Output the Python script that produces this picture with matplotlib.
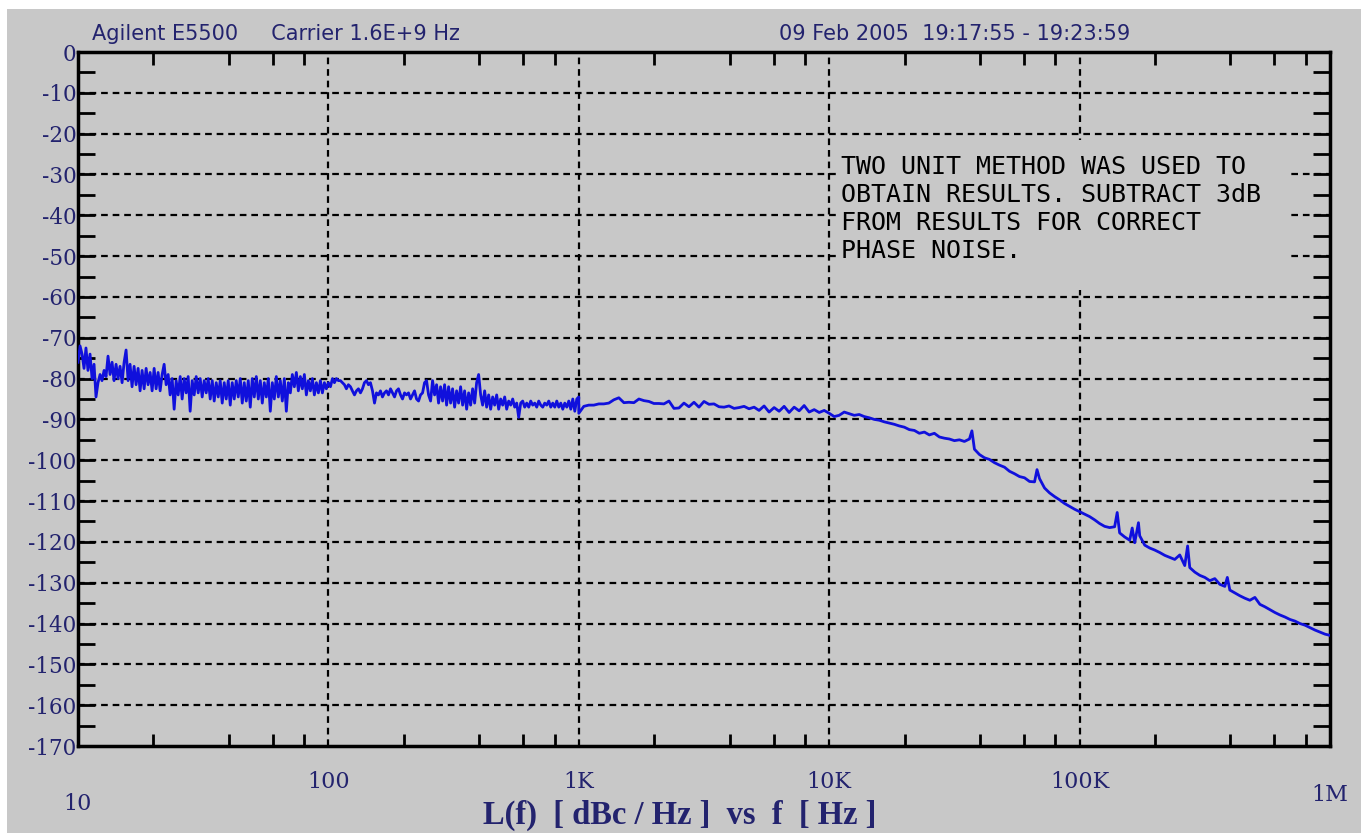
import matplotlib
matplotlib.use('Agg')
import matplotlib.pyplot as plt
from matplotlib.patches import Rectangle
from matplotlib.ticker import FixedLocator, FixedFormatter, NullFormatter

# phase noise trace, 10 Hz .. 1 MHz
freq_lo = [10.0, 10.19, 10.38, 10.57, 10.76, 10.96, 11.17, 11.38, 11.59, 11.80,
           12.02, 12.25, 12.47, 12.71, 12.94, 13.18, 13.43, 13.68, 13.93, 14.19,
           14.45, 14.72, 15.00, 15.28, 15.56, 15.85, 16.14, 16.44, 16.75, 17.06,
           17.38, 17.70, 18.03, 18.37, 18.71, 19.05, 19.41, 19.77, 20.14, 20.51,
           20.89, 21.28, 21.68, 22.08, 22.49, 22.91, 23.33, 23.77, 24.21, 24.66,
           25.12, 25.59, 26.06, 26.55, 27.04, 27.54, 28.05, 28.58, 29.11, 29.65,
           30.20, 30.76, 31.33, 31.92, 32.51, 33.11, 33.73, 34.36, 34.99, 35.65,
           36.31, 36.98, 37.67, 38.37, 39.08, 39.81, 40.55, 41.30, 42.07, 42.85,
           43.65, 44.46, 45.29, 46.13, 46.99, 47.86, 48.75, 49.66, 50.58, 51.52,
           52.48, 53.46, 54.45, 55.46, 56.49, 57.54, 58.61, 59.70, 60.81, 61.94,
           63.10, 64.27, 65.46, 66.68, 67.92, 69.18, 70.47, 71.78, 73.11, 74.47,
           75.86, 77.27, 78.70, 80.17, 81.66, 83.18, 84.72, 86.30, 87.90, 89.54,
           91.20, 92.90, 94.62, 96.38, 98.17]
noise_lo = [-76, -72, -74, -77.5, -72.5, -78, -74, -80, -76.5, -84.5,
            -81, -79, -80.5, -78, -79.5, -74.5, -79, -76, -80.5, -76.5,
            -80, -77, -81, -76, -73, -80.5, -76.5, -82, -77, -81.5,
            -77.5, -83, -78, -82.5, -77.5, -81.5, -78.5, -83, -77.5, -82.5,
            -78.5, -83, -79, -76.5, -81.5, -79, -84, -80, -87.5, -80.5,
            -84, -79.5, -85, -80, -83.5, -79.5, -88, -80.5, -84, -79.5,
            -83.5, -80, -84.5, -80.5, -83.5, -80, -85, -80.5, -85.5, -81,
            -84.5, -80.5, -86, -81, -85, -80.5, -86.5, -81, -85, -80.5,
            -84.5, -80, -86, -81, -85.5, -80.5, -87, -80, -84.5, -79.5,
            -85, -80.5, -86, -81, -84.5, -80, -88, -81, -85, -79.5,
            -84.5, -80.5, -85.5, -80, -88, -81, -83.5, -79, -82, -78.5,
            -83, -79.5, -82.5, -79, -84, -80.5, -83, -80, -84, -81,
            -83.5, -80.5, -83.5, -81, -82.5]

freq_mid = [100.0, 101.9, 103.8, 105.7, 107.6, 109.6, 111.7, 113.8, 115.9, 118.0,
            120.2, 122.5, 124.7, 127.1, 129.4, 131.8, 134.3, 136.8, 139.3, 141.9,
            144.5, 147.2, 150.0, 152.8, 155.6, 158.5, 161.4, 164.4, 167.5, 170.6,
            173.8, 177.0, 180.3, 183.7, 187.1, 190.5, 194.1, 197.7, 201.4, 205.1,
            208.9, 212.8, 216.8, 220.8, 224.9, 229.1, 233.3, 237.7, 242.1, 246.6,
            251.2, 255.9, 260.6, 265.5, 270.4, 275.4, 280.5, 285.8, 291.1, 296.5,
            302.0, 307.6, 313.3, 319.2, 325.1, 331.1, 337.3, 343.6, 349.9, 356.5,
            363.1, 369.8, 376.7, 383.7, 390.8, 398.1, 405.5, 413.0, 420.7, 428.5,
            436.5, 444.6, 452.9, 461.3, 469.9, 478.6, 487.5, 496.6, 505.8, 515.2,
            524.8, 534.6, 544.5, 554.6, 564.9, 575.4, 586.1, 597.0, 608.1, 619.4,
            631.0, 642.7, 654.6, 666.8, 679.2, 691.8, 704.7, 717.8, 731.1, 744.7,
            758.6, 772.7, 787.0, 801.7, 816.6, 831.8, 847.2, 863.0, 879.0, 895.4,
            912.0, 929.0, 946.2, 963.9, 981.7, 1000]
noise_mid = [-81, -82, -80, -81, -80, -80.5, -80.5, -81, -81.5, -82.5,
             -81.5, -82, -83, -84, -83, -82.5, -83.5, -82.5, -81, -80.5,
             -81.5, -81, -83, -86, -83.5, -84, -83, -84.5, -83.5, -83,
             -84, -82.5, -83.5, -84.5, -83, -82.5, -84, -85, -83.5, -84,
             -83.5, -85, -84, -83, -85, -85.5, -84, -83.5, -81, -80.5,
             -84, -85.5, -80.5, -84, -81.5, -86, -82, -85.5, -81.5, -86.5,
             -82, -86, -82.5, -87, -83, -86, -82, -86.5, -83, -87.5,
             -83.5, -86.5, -82.5, -86, -81, -79, -84, -86.5, -83, -87,
             -84, -87.5, -84.5, -86.5, -84, -87.5, -85, -86.5, -84.5, -87.5,
             -85.5, -86.5, -85, -87, -86, -89.5, -86, -85.5, -87, -86,
             -87, -85.5, -86.5, -86, -87, -85.5, -86.5, -87, -86, -86.5,
             -85.5, -87, -86, -87, -85.5, -87, -86, -87.5, -86, -87,
             -85.5, -87.5, -85, -88, -85, -84.5]

freq_1k = [1000, 1047, 1096, 1148, 1202, 1259, 1318, 1380, 1445, 1514, 1585,
           1660, 1738, 1820, 1905, 1995, 2089, 2188, 2291, 2399, 2512,
           2630, 2754, 2884, 3020, 3162, 3311, 3467, 3631, 3802, 3981,
           4169, 4365, 4571, 4786, 5012, 5248, 5495, 5754, 6026, 6310,
           6607, 6918, 7244, 7586, 7943, 8318, 8710, 9120, 9550, 10000]
noise_1k = [-88.5, -86.8, -86.5, -86.5, -86.2, -86.2, -86, -85.2, -84.7, -85.9, -85.8,
            -85.9, -85, -85.4, -85.6, -86.1, -86.1, -86.2, -85.5, -87.3, -87.2,
            -86, -86.9, -85.8, -87, -85.6, -86.3, -86.2, -86.9, -87, -86.7,
            -87.3, -87.1, -86.8, -87.4, -87, -87.8, -86.7, -88.2, -87.1, -88,
            -86.8, -88.3, -87, -87.9, -86.6, -88.2, -87.6, -88.3, -87.8, -88.5]

freq_10k = [10470, 10960, 11480, 12020, 12590, 13180, 13800, 14450, 15140, 15850,
            16600, 17380, 18200, 19050, 19950, 20890, 21880, 22910, 23990, 25120,
            26300, 27540, 28840, 30200, 31620, 33110, 34670, 36310, 37150, 38020,
            39810, 41690, 43650, 45710, 47860, 50120, 52480, 54950, 57540, 60260,
            63100, 66070, 67600, 69180, 72440, 75860, 79430, 83180, 87100, 91200,
            95500, 100000]
noise_10k = [-89.3, -89, -88.2, -88.6, -89, -88.8, -89.3, -89.6, -90, -90.2,
             -90.6, -90.9, -91.2, -91.6, -91.9, -92.5, -92.7, -93.4, -93.1, -93.8,
             -93.4, -94.3, -94.6, -94.8, -95.2, -95.0, -95.4, -94.8, -92.8, -97.3,
             -98.6, -99.4, -99.8, -100.6, -101.2, -101.7, -102.7, -103.3, -104, -104.3,
             -105.2, -105.3, -102.3, -104.5, -106.8, -108, -108.9, -109.7, -110.6, -111.3,
             -112, -112.6]

freq_100k = [104700, 109600, 114800, 120200, 125900, 131800, 138000, 141300, 144500, 151400,
             158500, 162200, 166000, 171800, 173800, 182000, 190500, 199500, 208900, 218800,
             229100, 239900, 251200, 263000, 270000, 275400, 288400, 302000, 316200, 331100,
             346700, 363100, 380200, 389000, 398100, 416900, 436500, 457100, 478600, 501200,
             524800, 549500, 575400, 602600, 631000, 660700, 691800, 724400, 758600, 794300,
             831800, 871000, 912000, 955000, 1000000]
noise_100k = [-113.2, -113.8, -114.6, -115.5, -116.2, -116.5, -116.3, -112.8, -117.8, -118.8,
              -119.6, -116.6, -120.2, -115.3, -118.5, -120.8, -121.5, -122, -122.6, -123.3,
              -123.8, -124.3, -123.2, -125.8, -121, -126.3, -127.4, -128.2, -128.7, -129.5,
              -129, -130.4, -130.9, -128.7, -131.8, -132.5, -133.2, -133.8, -134.3, -133.6,
              -135.3, -135.9, -136.6, -137.3, -137.9, -138.4, -139, -139.4, -140, -140.4,
              -141, -141.6, -142.1, -142.6, -142.9]

y_ticks = list(range(0, -171, -10))
x_ticks = [10, 100, 1e3, 1e4, 1e5, 1e6]
x_labels = ['10', '100', '1K', '10K', '100K', '1M']
x_label_y = [-0.084, -0.052, -0.052, -0.052, -0.052, -0.071]

note = ("TWO UNIT METHOD WAS USED TO\n"
        "OBTAIN RESULTS. SUBTRACT 3dB\n"
        "FROM RESULTS FOR CORRECT\n"
        "PHASE NOISE.")

gray = '#c8c8c8'
navy = '#23236e'

fig = plt.figure(figsize=(13.61, 8.33), dpi=100, facecolor='white')
fig.patches.append(Rectangle((7 / 1361, 0), 1, 1 - 9 / 833, transform=fig.transFigure,
                             facecolor=gray, edgecolor='none', zorder=-10))
ax = fig.add_axes([78 / 1361, 1 - 746 / 833, 1252 / 1361, 694 / 833])
ax.set_facecolor(gray)

freq = freq_lo + freq_mid + freq_1k + freq_10k + freq_100k
noise = noise_lo + noise_mid + noise_1k + noise_10k + noise_100k
ax.plot(freq, noise, color='#1010dc', lw=2.0, zorder=3)

ax.set_xscale('log')
ax.set_xlim(10, 1e6)
ax.set_ylim(-170, 0)

# grid
for y in y_ticks[1:-1]:
    ax.axhline(y, color='black', lw=1.6, ls=(0, (3, 2.2)), zorder=1)
for x in x_ticks[1:-1]:
    ax.axvline(x, color='black', lw=1.6, ls=(0, (3, 2.2)), zorder=1)

ax.yaxis.set_major_locator(FixedLocator(y_ticks))
ax.yaxis.set_major_formatter(FixedFormatter([str(v) for v in y_ticks]))
ax.yaxis.set_minor_locator(FixedLocator([v - 5 for v in y_ticks[:-1]]))
ax.xaxis.set_major_locator(FixedLocator(x_ticks))
ax.xaxis.set_major_formatter(NullFormatter())
minor_x = [m * d for d in [10, 100, 1e3, 1e4, 1e5] for m in (2, 4, 6, 8)]
ax.xaxis.set_minor_locator(FixedLocator(minor_x))
ax.xaxis.set_minor_formatter(NullFormatter())

ax.tick_params(axis='y', which='both', direction='in', left=True, right=True,
               length=12, width=2, color='black')
ax.tick_params(axis='y', which='major', labelsize=15.5, labelcolor=navy, pad=1)
ax.tick_params(axis='x', which='major', length=0)
ax.tick_params(axis='x', which='minor', direction='in', top=True, bottom=True,
               length=9, width=2, color='black')
for lab in ax.get_yticklabels():
    lab.set_fontfamily('DejaVu Serif')

for s in ax.spines.values():
    s.set_linewidth(2.5)
    s.set_color('black')

for x, lab, yy in zip(x_ticks, x_labels, x_label_y):
    ax.text(x, yy, lab, transform=ax.get_xaxis_transform(), ha='center', va='center',
            fontsize=16, color=navy, family='DejaVu Serif')

fig.text(680 / 1361, 1 - 815 / 833, 'L(f)  [ dBc / Hz ]  vs  f  [ Hz ]', ha='center',
         va='center', fontsize=23.5, fontweight='bold', color=navy, family='Liberation Serif')

fig.text(92 / 1361, 1 - 34 / 833, 'Agilent E5500     Carrier 1.6E+9 Hz', ha='left',
         va='center', fontsize=15, color=navy, family='DejaVu Sans')
fig.text(955 / 1361, 1 - 34 / 833, '09 Feb 2005  19:17:55 - 19:23:59', ha='center',
         va='center', fontsize=15, color=navy, family='DejaVu Sans')

# the note sits on a plain patch that hides the grid behind it
ax.add_patch(Rectangle((10670, -58.3), 673000 - 10670, 36.7, facecolor=gray,
                       edgecolor='none', zorder=2))
ax.text(11170, -25.2, note, ha='left', va='top', fontsize=18, color='black',
        family='DejaVu Sans Mono', linespacing=1.22, zorder=4)

fig.savefig('out.png', dpi=100, facecolor=fig.get_facecolor())
